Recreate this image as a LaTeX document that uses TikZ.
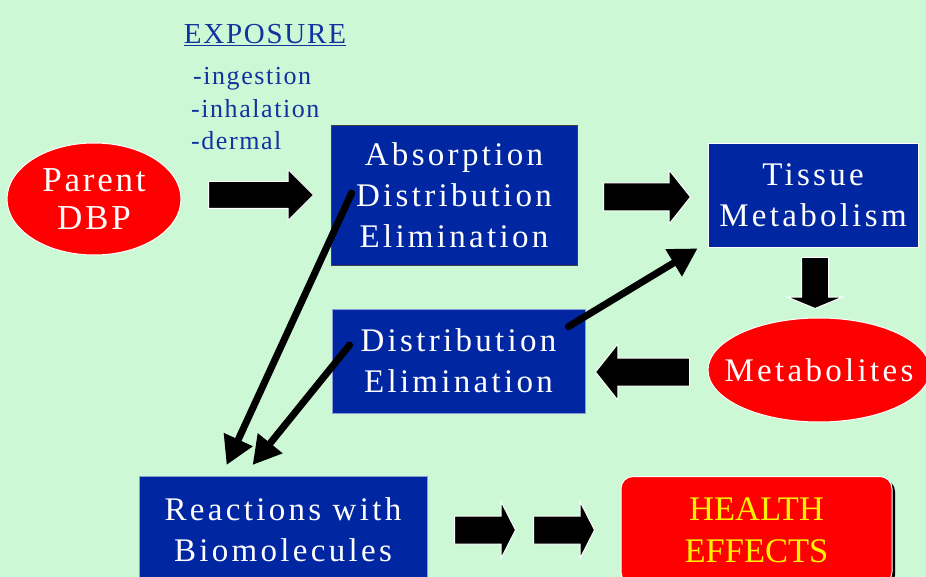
\documentclass[tikz,border=0pt]{standalone}
\usepackage{fontspec}
\setmainfont{Liberation Serif}
\newfontfamily\spacedfont[LetterSpace=10]{Liberation Serif}
\newfontfamily\ovalfont[LetterSpace=8]{Liberation Serif}
\newfontfamily\lightspaced[LetterSpace=6]{Liberation Serif}
\usetikzlibrary{shapes.geometric,shapes.arrows,arrows.meta,calc,shadows}
\definecolor{bg}{RGB}{204,248,213}
\definecolor{boxblue}{RGB}{0,38,162}
\definecolor{txtblue}{RGB}{18,50,160}
\begin{document}
\begin{tikzpicture}[x=1pt,y=-1pt,
  bluebox/.style={rectangle, fill=boxblue, text=white, align=center, inner sep=0pt,
    font=\spacedfont\fontsize{33}{41}\selectfont},
  redoval/.style={ellipse, fill=red, draw=white, line width=1pt, text=white, align=center, inner sep=0pt,
    font=\ovalfont\fontsize{35}{38}\selectfont},
  blockarr/.style={single arrow, fill=black, draw=white, line width=1pt, inner sep=0pt,
    minimum width=0pt, single arrow head indent=0pt},
  thickarr/.style={line width=7pt, line cap=round, -{Triangle[length=28pt,width=30pt]}},
  exptext/.style={text=txtblue, inner sep=0pt, font=\lightspaced\fontsize{26}{32}\selectfont},
]
\useasboundingbox (0,0) rectangle (926,577);
\fill[bg] (0,0) rectangle (926,577);

% nodes
\node[redoval, minimum width=174pt, minimum height=112pt] (parent) at (94,199) {Parent\\DBP};
\node[bluebox, draw=black!75, line width=0.8pt, minimum width=246pt, minimum height=140pt] (abs) at (454,195)
  {Absorption\\Distribution\\Elimination};
\node[bluebox, draw=white, line width=0.8pt, minimum width=210pt, minimum height=104pt] (tissue) at (813,195)
  {Tissue\\Metabolism};
\node[bluebox, draw=white!55!boxblue, line width=0.8pt, minimum width=253pt, minimum height=104pt] (dist) at (458.5,361)
  {Distribution\\Elimination};
\node[redoval, minimum width=222pt, minimum height=104pt, font=\spacedfont\fontsize{33}{38}\selectfont] (metab) at (819,370)
  {\makebox[140pt]{Metabolites}};
\node[bluebox, draw=white!55!boxblue, line width=0.8pt, minimum width=288pt, minimum height=106.5pt, anchor=north] (reac) at (283,476)
  {Reactions with\\Biomolecules};
\node[rectangle, rounded corners=12pt, fill=red, draw=white, line width=1pt, text=yellow, align=center, inner sep=0pt,
  minimum width=271pt, minimum height=107.5pt, anchor=north,
  font=\fontsize{34.5}{42}\selectfont,
  drop shadow={shadow xshift=3pt, shadow yshift=-3pt, fill=black, opacity=1}] (health) at (756.5,476)
  {HEALTH\\EFFECTS};

% exposure texts
\node[text=txtblue, inner sep=0pt, anchor=base, font=\lightspaced\fontsize{29}{32}\selectfont] (expo) at (265,44) {\underline{EXPOSURE}};
\node[exptext, anchor=base west] (ing) at (193,85) {-ingestion};
\node[exptext, anchor=base west] (inh) at (191,118) {-inhalation};
\node[exptext, anchor=base west] (derm) at (191,150) {-dermal};

% block arrows
\node[blockarr, anchor=tail, minimum height=105pt, inner ysep=13pt, single arrow head extend=12pt,
  single arrow tip angle=90] (b1) at (208,195) {};
\node[blockarr, anchor=tail, minimum height=87pt, inner ysep=13.5pt, single arrow head extend=13pt,
  single arrow tip angle=103] (b2) at (603,197) {};
\node[blockarr, anchor=tail, minimum height=51pt, inner xsep=13pt, inner ysep=0pt, single arrow head extend=14pt,
  single arrow tip angle=135, shape border rotate=270] (b3) at (815,257) {};
\node[blockarr, anchor=tail, minimum height=94pt, inner ysep=13.5pt, single arrow head extend=14pt,
  single arrow tip angle=103, shape border rotate=180] (b4) at (690,372) {};
\node[blockarr, anchor=tail, minimum height=61pt, inner ysep=13.5pt, single arrow head extend=14pt,
  single arrow tip angle=126] (b5) at (454,530) {};
\node[blockarr, anchor=tail, minimum height=61pt, inner ysep=13.5pt, single arrow head extend=14pt,
  single arrow tip angle=126] (b6) at (533,530) {};

% thick line arrows
\draw[thickarr] ($(abs.west)+(21,-2)$) -- ($(reac.north west)+(88,-11)$);
\draw[thickarr] ($(dist.west)+(18,-16)$) -- ($(reac.north west)+(114,-11)$);
\draw[thickarr] ($(dist.north east)+(-17,18)$) -- ($(tissue.south west)+(-10,1)$);
\end{tikzpicture}
\end{document}
